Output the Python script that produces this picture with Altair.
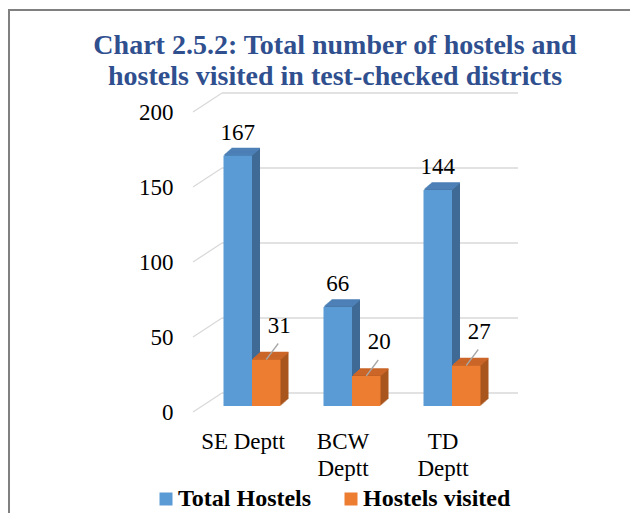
import altair as alt
import pandas as pd

# ---------------- data ----------------
depts = ["SE Deptt", "BCW Deptt", "TD Deptt"]
total_hostels = [167, 66, 144]
hostels_visited = [31, 20, 27]
series_names = ["Total Hostels", "Hostels visited"]
y_ticks = [0, 50, 100, 150, 200]
title_lines = ["Chart 2.5.2: Total number of hostels and",
               "hostels visited in test-checked districts"]

df = pd.DataFrame({
    "dept": depts * 2,
    "series": [series_names[0]] * len(depts) + [series_names[1]] * len(depts),
    "value": total_hostels + hostels_visited,
})
ticks_df = pd.DataFrame({"tick": y_ticks})

# ---------------- styles ----------------
FONT = "Liberation Serif"
FRONT = ["#5B9BD5", "#ED7D31"]
SIDE = ["#3E6A95", "#A9561E"]
TOP = ["#4C80B6", "#CB6628"]
BAR_W = 28.5
SHIFT = [-BAR_W / 2, BAR_W / 2]     # position of each series inside its group
DEPTH_X, DEPTH_Y, STEPS = 8, 7, 8

x_enc = alt.X(
    "dept:N", sort=depts, title=None,
    scale=alt.Scale(paddingInner=0.43, paddingOuter=0.215),
    axis=alt.Axis(labelAngle=0, labelFont=FONT, labelFontSize=23, labelColor="black",
                  labelPadding=24, labelOffset=-9, labelLineHeight=27,
                  labelExpr="datum.label == 'SE Deptt' ? datum.label : split(datum.label, ' ')",
                  domain=False, ticks=False),
)
y_scale = alt.Scale(domain=[0, 200], nice=False)
y_axis = alt.Axis(values=y_ticks, title=None, domain=False, ticks=False, grid=False,
                  labelFont=FONT, labelFontSize=23, labelColor="black",
                  labelPadding=29, labelOffset=6)
y_enc = alt.Y("value:Q", scale=y_scale, axis=y_axis)
color_enc = alt.Color(
    "series:N", sort=series_names,
    scale=alt.Scale(domain=series_names, range=FRONT),
    legend=alt.Legend(orient="none", legendX=-48, legendY=381,
                      direction="horizontal", title=None,
                      symbolType="square", symbolSize=169, symbolStrokeWidth=0,
                      labelFont=FONT, labelFontSize=24, labelFontWeight="bold",
                      labelColor="black", labelOffset=0, columnPadding=27, labelLimit=300),
)

base = alt.Chart(df)

# back-wall gridlines and the diagonal wall edges
grid = alt.Chart(ticks_df).mark_rule(color="#D9D9D9", strokeWidth=1.3, yOffset=-13).encode(
    x=alt.value(20), x2=alt.value(316),
    y=alt.Y("tick:Q", scale=y_scale, axis=y_axis),
)
diag = alt.Chart(ticks_df).mark_rule(color="#D9D9D9", strokeWidth=1.3, yOffset=6, y2Offset=-13).encode(
    x=alt.value(-9), x2=alt.value(20),
    y=alt.Y("tick:Q", scale=y_scale, axis=y_axis), y2=alt.Y2("tick:Q"),
)

layers = [grid, diag]

# side faces (extrusion)
for i, s in enumerate(series_names):
    for k in range(1, STEPS + 1):
        ox = SHIFT[i] + k * DEPTH_X / STEPS
        oy = -k * DEPTH_Y / STEPS
        layers.append(
            base.transform_filter(alt.datum.series == s)
            .mark_bar(color=SIDE[i], width=BAR_W, xOffset=ox, yOffset=oy, y2Offset=oy)
            .encode(x=x_enc, y=y_enc)
        )
# top faces
for i, s in enumerate(series_names):
    for k in range(1, STEPS + 1):
        ox = SHIFT[i] + k * DEPTH_X / STEPS
        oy = -k * DEPTH_Y / STEPS
        layers.append(
            base.transform_filter(alt.datum.series == s)
            .mark_bar(fillOpacity=0, stroke=TOP[i], strokeWidth=1.3, width=BAR_W,
                      xOffset=ox, yOffset=oy, y2Offset=oy)
            .encode(x=x_enc, y=y_enc, y2=alt.Y2("value:Q"))
        )

# front faces
for i, s in enumerate(series_names):
    layers.append(
        base.transform_filter(alt.datum.series == s)
        .mark_bar(width=BAR_W, xOffset=SHIFT[i])
        .encode(x=x_enc, y=y_enc, color=color_enc)
    )

# leader lines for the visited labels
leaders = base.transform_filter(alt.datum.series == series_names[1]).mark_rule(
    color="#A6A6A6", strokeWidth=1.3, xOffset=SHIFT[1], y2Offset=-16, x2Offset=SHIFT[1] + 12
).encode(x=x_enc, y=y_enc, x2=alt.X2("dept:N"), y2=alt.Y2("value:Q"))
layers.append(leaders)

# data labels
lab_total = base.transform_filter(alt.datum.series == series_names[0]).mark_text(
    font=FONT, fontSize=23, color="black", dx=SHIFT[0], dy=-23
).encode(x=x_enc, y=y_enc, text="value:Q")
lab_vis = base.transform_filter(alt.datum.series == series_names[1]).mark_text(
    font=FONT, fontSize=23, color="black", dx=SHIFT[1] + 13, dy=-34
).encode(x=x_enc, y=y_enc, text="value:Q")
layers += [lab_total, lab_vis]

# outer frame of the chart
frame = alt.Chart(ticks_df).mark_rect(fillOpacity=0, stroke="#808080", strokeWidth=2).encode(
    x=alt.value(-193), x2=alt.value(445), y=alt.value(-96), y2=alt.value(420)
)
layers.append(frame)

chart = alt.layer(*layers).properties(
    width=300, height=300,
    title=alt.TitleParams(text=title_lines, font=FONT, fontSize=28, fontWeight="bold",
                          color="#2F4F8F", anchor="middle", frame="group", dx=-17,
                          offset=-82, lineHeight=31),
    autosize=alt.AutoSizeParams(type="none"),
    padding={"left": 194, "top": 98, "right": 128, "bottom": 107},
).configure_view(stroke=None)

chart.save("out.html", embed_options={"renderer": "svg", "actions": False})
